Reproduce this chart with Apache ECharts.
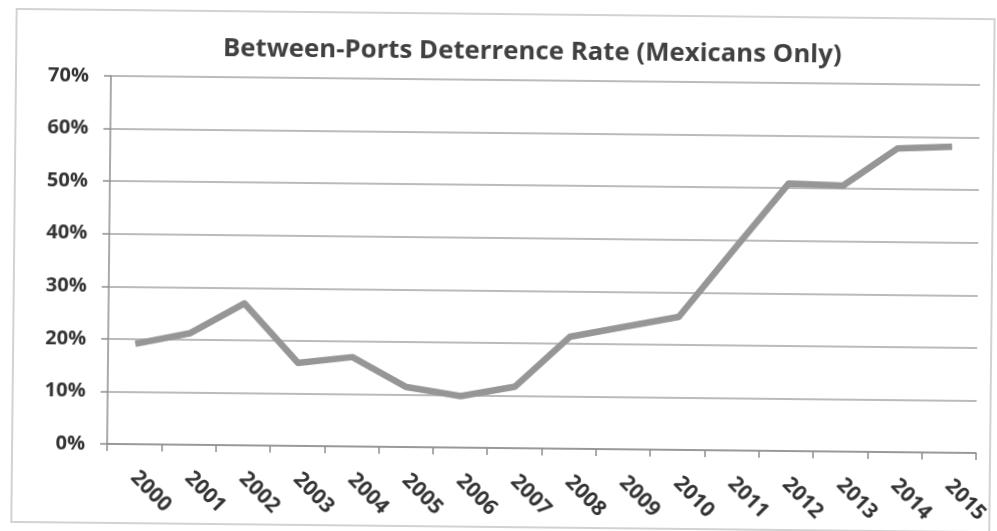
<!DOCTYPE html>
<html>
<head>
<meta charset="utf-8">
<script src="https://cdn.jsdelivr.net/npm/echarts@6/dist/echarts.min.js"></script>
<style>
  html, body { margin: 0; padding: 0; background: #ffffff; overflow: hidden; }
  #chart { width: 997px; height: 531px; transform: rotate(0.6deg); transform-origin: 50% 50%; }
</style>
</head>
<body>
<div id="chart"></div>
<script>
// Between-ports deterrence rate, Mexicans only (percent)
const years = ['2000','2001','2002','2003','2004','2005','2006','2007',
               '2008','2009','2010','2011','2012','2013','2014','2015'];
const deterrenceRate = [19.1, 21.2, 27.0, 15.8, 17.0, 11.4, 9.8, 11.7,
                        21.3, 23.3, 25.3, 38.2, 50.9, 50.6, 57.8, 58.2];
const yTicks = { min: 0, max: 70, step: 10 };

const chart = echarts.init(document.getElementById('chart'), null, { renderer: 'canvas' });

const labelFont = '"Open Sans", "DejaVu Sans", sans-serif';

chart.setOption({
  backgroundColor: '#ffffff',
  animation: false,
  title: {
    text: 'Between-Ports Deterrence Rate (Mexicans Only)',
    left: 525,
    textAlign: 'center',
    top: 34,
    textStyle: { fontFamily: labelFont, fontWeight: 'bold', fontSize: 25.8, color: '#404040' }
  },
  graphic: [{
    type: 'rect',
    shape: { x: 14, y: 14, width: 978, height: 513 },
    style: { fill: 'none', stroke: '#d2d2d2', lineWidth: 2 },
    silent: true,
    z: -1
  }],
  grid: { left: 109, right: 19, top: 80, bottom: 83, containLabel: false },
  xAxis: {
    type: 'category',
    data: years,
    boundaryGap: true,
    axisLine: { show: true, lineStyle: { color: '#8e8e8e', width: 1.5 } },
    axisTick: { show: true, alignWithLabel: false, length: 7, lineStyle: { color: '#8e8e8e', width: 1.5 } },
    axisLabel: {
      rotate: -45,
      margin: 30,
      interval: 0,
      fontFamily: labelFont,
      fontWeight: 'bold',
      fontSize: 21,
      color: '#333333'
    },
    splitLine: { show: false }
  },
  yAxis: {
    type: 'value',
    min: yTicks.min,
    max: yTicks.max,
    interval: yTicks.step,
    axisLine: { show: true, lineStyle: { color: '#8e8e8e', width: 1.5 } },
    axisTick: { show: true, length: 7, lineStyle: { color: '#8e8e8e', width: 1.5 } },
    axisLabel: {
      formatter: '{value}%',
      margin: 22,
      fontFamily: labelFont,
      fontWeight: 'bold',
      fontSize: 20,
      color: '#333333'
    },
    splitLine: { show: true, lineStyle: { color: '#a4a4a4', width: 1.5 } }
  },
  series: [{
    type: 'line',
    data: deterrenceRate,
    symbol: 'none',
    smooth: false,
    lineStyle: { color: '#969696', width: 6.5, join: 'round', cap: 'butt' },
    z: 3
  }]
});
</script>
</body>
</html>
